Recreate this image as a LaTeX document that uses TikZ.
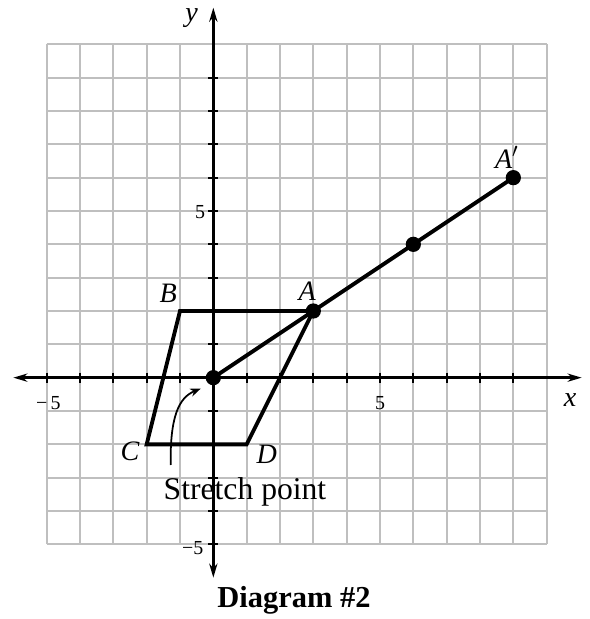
\documentclass[tikz,border=0pt]{standalone}
\usepackage{fontspec}
\setmainfont{Liberation Serif}
\usetikzlibrary{arrows.meta}

\begin{document}
\begin{tikzpicture}[
        gridline/.style={gray!50, line width=1.5pt},
        axis/.style={line width=2.4pt, {Stealth[length=12pt,width=7pt]}-{Stealth[length=12pt,width=7pt]}},
        figline/.style={line width=3.3pt, line join=miter},
        dot/.style={circle, fill=black, inner sep=0pt, minimum size=13pt},
        ptlabel/.style={font=\fontsize{24}{24}\selectfont\itshape},
        numlabel/.style={font=\fontsize{17}{17}\selectfont}
    ]
    \useasboundingbox (-6.4,-7.24) rectangle (11.27,11.33);
    % Grid
    \foreach \i in {-5,...,10} {
        \draw[gridline] (\i,-5) -- (\i,10);
        \draw[gridline] (-5,\i) -- (10,\i);
    }
    % Axes
    \coordinate (xl) at (-6,0);
    \coordinate (xr) at (11.05,0);
    \coordinate (yb) at (0,-6);
    \coordinate (yt) at (0,11.1);
    \draw[axis] (xl) -- (xr);
    \draw[axis] (yb) -- (yt);
    \foreach \i in {-5,...,-1,1,2,...,9} {
        \draw[line width=1.5pt] (\i,0.15) -- (\i,-0.15);
        \draw[line width=1.5pt] (-0.15,\i) -- (0.15,\i);
    }
    \node[ptlabel] (xlab) at (10.7,-0.68) {x};
    \node[ptlabel] (ylab) at (-0.65,10.8) {y};
    \node[numlabel] (xm5) at (-4.95,-0.75) {−\,5};
    \node[numlabel] (xp5) at (5,-0.75) {5};
    \node[numlabel] (yp5) at (-0.4,4.98) {5};
    \node[numlabel] (ym5) at (-0.62,-5.1) {−5};
    % Points
    \coordinate (O) at (0,0);
    \coordinate (A) at (3,2);
    \coordinate (B) at (-1,2);
    \coordinate (C) at (-2,-2);
    \coordinate (D) at (1,-2);
    \coordinate (M) at (6,4);
    \coordinate (A2) at (9,6);
    % Parallelogram and stretch line
    \draw[figline] (B) -- (A) -- (D) -- (C) -- cycle;
    \draw[figline] (O) -- (A2);
    \foreach \p in {O,A,M,A2} {
        \node[dot] (d\p) at (\p) {};
    }
    \node[ptlabel] (lA) at (2.82,2.58) {A};
    \node[ptlabel] (lB) at (-1.35,2.52) {B};
    \node[ptlabel] (lC) at (-2.5,-2.2) {C};
    \node[ptlabel] (lD) at (1.6,-2.3) {D};
    \node[ptlabel] (lA2) at (8.8,6.6) {A$'$};
    % Stretch point label
    \node[font=\fontsize{27}{27}\selectfont] (sp) at (0.95,-3.44) {Stretch point};
    \coordinate (arrS) at (-1.28,-2.62);
    \coordinate (arrE) at (-0.38,-0.33);
    \draw[line width=1.5pt, -{Stealth[length=9pt,width=7pt]}] (arrS) .. controls (-1.3,-1.2) and (-1.05,-0.6) .. (arrE);
    \node[font=\fontsize{26}{26}\selectfont\bfseries] (title) at (2.42,-6.67) {Diagram \#2};
\end{tikzpicture}
\end{document}
